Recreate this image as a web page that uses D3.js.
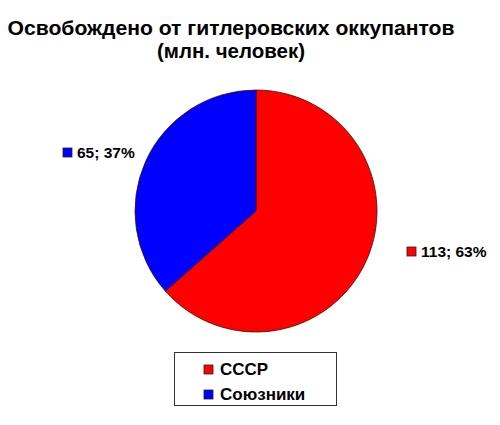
<!DOCTYPE html>
<html>
<head>
<meta charset="utf-8">
<script src="https://cdn.jsdelivr.net/npm/d3@7"></script>
<style>
  body { margin: 0; background: #fff; }
  text { font-family: "Liberation Sans", Arial, sans-serif; font-weight: bold; fill: #000; }
</style>
</head>
<body>
<div id="chart"></div>
<script>
"use strict";

const titleLines = ["Освобождено от гитлеровских оккупантов", "(млн. человек)"];
const categories = ["СССР", "Союзники"];
const values = [113, 65];
const percents = [63, 37];
const colors = ["#ff0000", "#0000ff"];

const width = 500;
const height = 425;
const cx = 256;
const cy = 211;
const radius = 121;

const svg = d3
  .select("#chart")
  .append("svg")
  .attr("width", width)
  .attr("height", height);

///////////////////////////////////
// title
///////////////////////////////////

const titleWidths = [447, 148];

svg
  .selectAll(".title")
  .data(titleLines)
  .enter()
  .append("text")
  .attr("class", "title")
  .attr("x", 231)
  .attr("y", (d, i) => 35 + i * 23)
  .attr("text-anchor", "middle")
  .attr("textLength", (d, i) => titleWidths[i])
  .attr("lengthAdjust", "spacingAndGlyphs")
  .style("font-size", "20px")
  .text((d) => d);

///////////////////////////////////
// pie
///////////////////////////////////

const pie = d3.pie().sort(null).value((d) => d);
const arc = d3.arc().innerRadius(0).outerRadius(radius);
const arcs = pie(values);

const g = svg.append("g").attr("transform", `translate(${cx},${cy})`);

g.selectAll("path")
  .data(arcs)
  .enter()
  .append("path")
  .attr("d", arc)
  .attr("fill", (d, i) => colors[i])
  .attr("stroke", "#3a1010")
  .attr("stroke-width", 0.8);

///////////////////////////////////
// data labels
///////////////////////////////////

const labelPos = [
  { x: 151, y: 36 },   // СССР, relative to center
  { x: -193, y: -63 }, // Союзники
];

const labels = g
  .selectAll(".lbl")
  .data(arcs)
  .enter()
  .append("g")
  .attr("class", "lbl")
  .attr("transform", (d, i) => `translate(${labelPos[i].x},${labelPos[i].y})`);

labels
  .append("rect")
  .attr("x", 0)
  .attr("y", 0)
  .attr("width", 9)
  .attr("height", 9)
  .attr("fill", (d, i) => colors[i])
  .attr("stroke", "#222")
  .attr("stroke-width", 0.8);

labels
  .append("text")
  .attr("x", 14)
  .attr("y", 10)
  .style("font-size", "15.5px")
  .text((d, i) => `${values[i]}; ${percents[i]}%`);

///////////////////////////////////
// legend
///////////////////////////////////

const legend = svg.append("g").attr("transform", "translate(174,352)");

legend
  .append("rect")
  .attr("x", 0.5)
  .attr("y", 0.5)
  .attr("width", 162)
  .attr("height", 53)
  .attr("fill", "#fff")
  .attr("stroke", "#333")
  .attr("stroke-width", 1);

const items = legend
  .selectAll(".item")
  .data(categories)
  .enter()
  .append("g")
  .attr("class", "item")
  .attr("transform", (d, i) => `translate(30,${13 + i * 25})`);

items
  .append("rect")
  .attr("width", 9)
  .attr("height", 9)
  .attr("fill", (d, i) => colors[i])
  .attr("stroke", "#222")
  .attr("stroke-width", 0.8);

items
  .append("text")
  .attr("x", 16)
  .attr("y", 10)
  .style("font-size", "17px")
  .text((d) => d);
</script>
</body>
</html>
